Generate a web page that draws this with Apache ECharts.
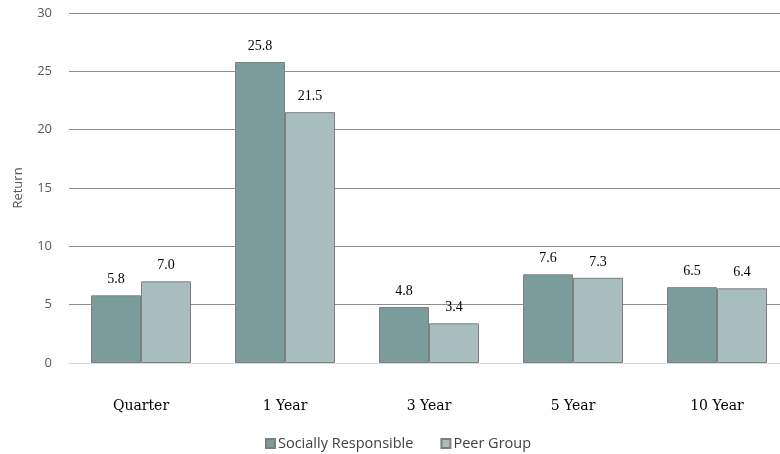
<!DOCTYPE html>
<html><head><meta charset="utf-8">
<script src="https://cdn.jsdelivr.net/npm/echarts@6/dist/echarts.min.js"></script>
<style>html,body{margin:0;padding:0;background:#fff;overflow:hidden;width:780px;height:454px}#c{width:790px;height:454px}</style>
</head><body><div id="c"></div>
<script>
const categories = ['Quarter', '1 Year', '3 Year', '5 Year', '10 Year'];
const sociallyResponsible = [5.8, 25.8, 4.8, 7.6, 6.5];
const peerGroup = [7.0, 21.5, 3.4, 7.3, 6.4];
const yTicks = [0, 5, 10, 15, 20, 25, 30];

const chart = echarts.init(document.getElementById('c'));
const labelStyle = {
  show: true, position: 'top', distance: 9,
  fontFamily: 'Liberation Serif', fontSize: 14, color: '#000',
  formatter: p => p.value.toFixed(1)
};
chart.setOption({
  animation: false,
  grid: { left: 69, right: 1, top: 13, bottom: 91 },
  legend: {
    bottom: -2, left: 260, itemWidth: 9, itemHeight: 9, itemGap: 27,
    icon: 'rect',
    textStyle: { fontFamily: 'Open Sans', fontSize: 14.5, color: '#404040', padding: [0,0,0,-2] },
    data: ['Socially Responsible', 'Peer Group']
  },
  xAxis: {
    type: 'category', data: categories,
    axisLine: { lineStyle: { color: '#d9d9d9' } },
    axisTick: { show: false },
    axisLabel: { margin: 36, fontFamily: 'DejaVu Serif', fontSize: 14, color: '#000' }
  },
  yAxis: {
    type: 'value', min: yTicks[0], max: yTicks[yTicks.length - 1], interval: 5,
    name: 'Return', nameLocation: 'middle', nameGap: 44, nameRotate: 90,
    nameTextStyle: { fontFamily: 'Open Sans', fontSize: 13, color: '#595959' },
    axisLabel: { margin: 17, fontFamily: 'Open Sans', fontSize: 13, color: '#595959' },
    splitLine: { lineStyle: { color: '#8f8f8f', width: 1 } }
  },
  series: [
    { name: 'Socially Responsible', type: 'bar', data: sociallyResponsible,
      barGap: '0%', barWidth: 50,
      itemStyle: { color: '#7a9d9b', borderColor: '#7f7f7f', borderWidth: 1 },
      label: labelStyle },
    { name: 'Peer Group', type: 'bar', data: peerGroup, barWidth: 50,
      itemStyle: { color: '#a8bebe', borderColor: '#7f7f7f', borderWidth: 1 },
      label: labelStyle }
  ]
});
</script></body></html>
